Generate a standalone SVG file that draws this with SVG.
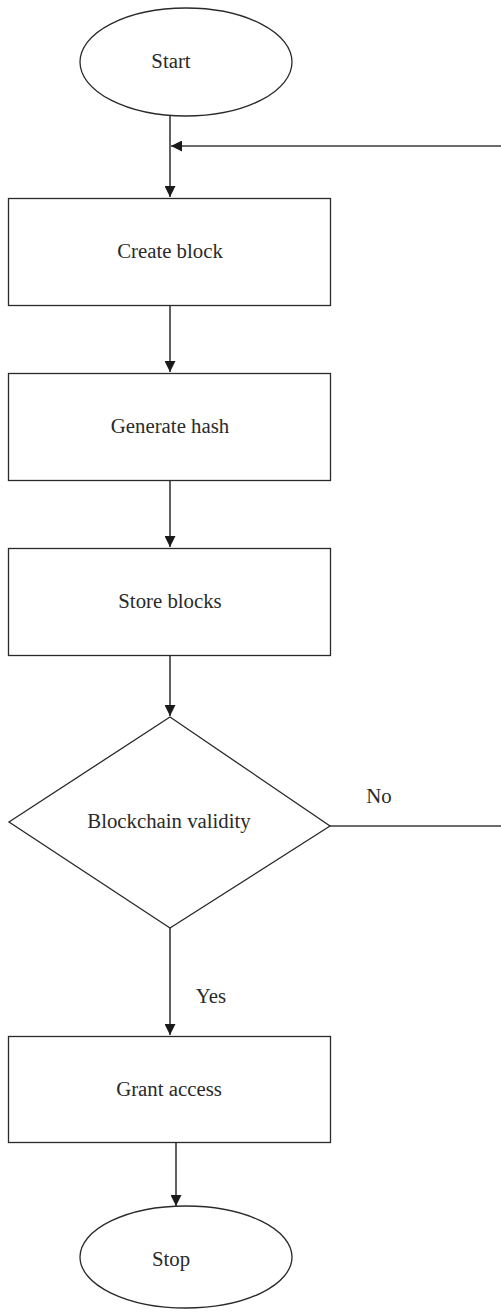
<svg xmlns="http://www.w3.org/2000/svg" width="501" height="1314" viewBox="0 0 501 1314">
<style>
.shape{fill:#fff;stroke:#2a2a2a;stroke-width:1.3}
.conn{fill:none;stroke:#3a3a3a;stroke-width:1.6}
.lbl{font-family:"Liberation Serif",serif;font-size:20.8px;fill:#2a2a2a;text-anchor:middle}
</style>
<defs>
<marker id="arr" viewBox="0 0 10 10" refX="10" refY="5" markerWidth="11" markerHeight="11" markerUnits="userSpaceOnUse" orient="auto">
<path d="M0,0 L10,5 L0,10 Z" fill="#1a1a1a"/>
</marker>
</defs>
<g id="connectors">
<line class="conn" x1="170" y1="116" x2="170" y2="197" marker-end="url(#arr)"/>
<line class="conn" x1="501" y1="146" x2="171" y2="146" marker-end="url(#arr)"/>
<line class="conn" x1="170" y1="306" x2="170" y2="372" marker-end="url(#arr)"/>
<line class="conn" x1="170" y1="481" x2="170" y2="547" marker-end="url(#arr)"/>
<line class="conn" x1="170" y1="655" x2="170" y2="716" marker-end="url(#arr)"/>
<line class="conn" x1="330" y1="826" x2="501" y2="826"/>
<line class="conn" x1="170" y1="928" x2="170" y2="1035" marker-end="url(#arr)"/>
<line class="conn" x1="176" y1="1142" x2="176" y2="1206" marker-end="url(#arr)"/>
<text class="lbl" x="379" y="803">No</text>
<text class="lbl" x="211" y="1003">Yes</text>
</g>
<g id="start">
<ellipse class="shape" cx="186" cy="62" rx="106" ry="54"/>
<text class="lbl" x="171" y="68">Start</text>
</g>
<g id="create">
<rect class="shape" x="8.5" y="198.5" width="322" height="107"/>
<text class="lbl" x="170" y="258">Create block</text>
</g>
<g id="hash">
<rect class="shape" x="8.5" y="373.5" width="322" height="107"/>
<text class="lbl" x="170" y="433">Generate hash</text>
</g>
<g id="store">
<rect class="shape" x="8.5" y="548.5" width="322" height="107"/>
<text class="lbl" x="170" y="608">Store blocks</text>
</g>
<g id="validity">
<polygon class="shape" points="170,717 330,826 170,928 9,822"/>
<text class="lbl" x="169" y="828">Blockchain validity</text>
</g>
<g id="grant">
<rect class="shape" x="8.5" y="1036.5" width="322" height="106"/>
<text class="lbl" x="169" y="1096">Grant access</text>
</g>
<g id="stop">
<ellipse class="shape" cx="186" cy="1257" rx="106" ry="51"/>
<text class="lbl" x="171" y="1266">Stop</text>
</g>
</svg>
